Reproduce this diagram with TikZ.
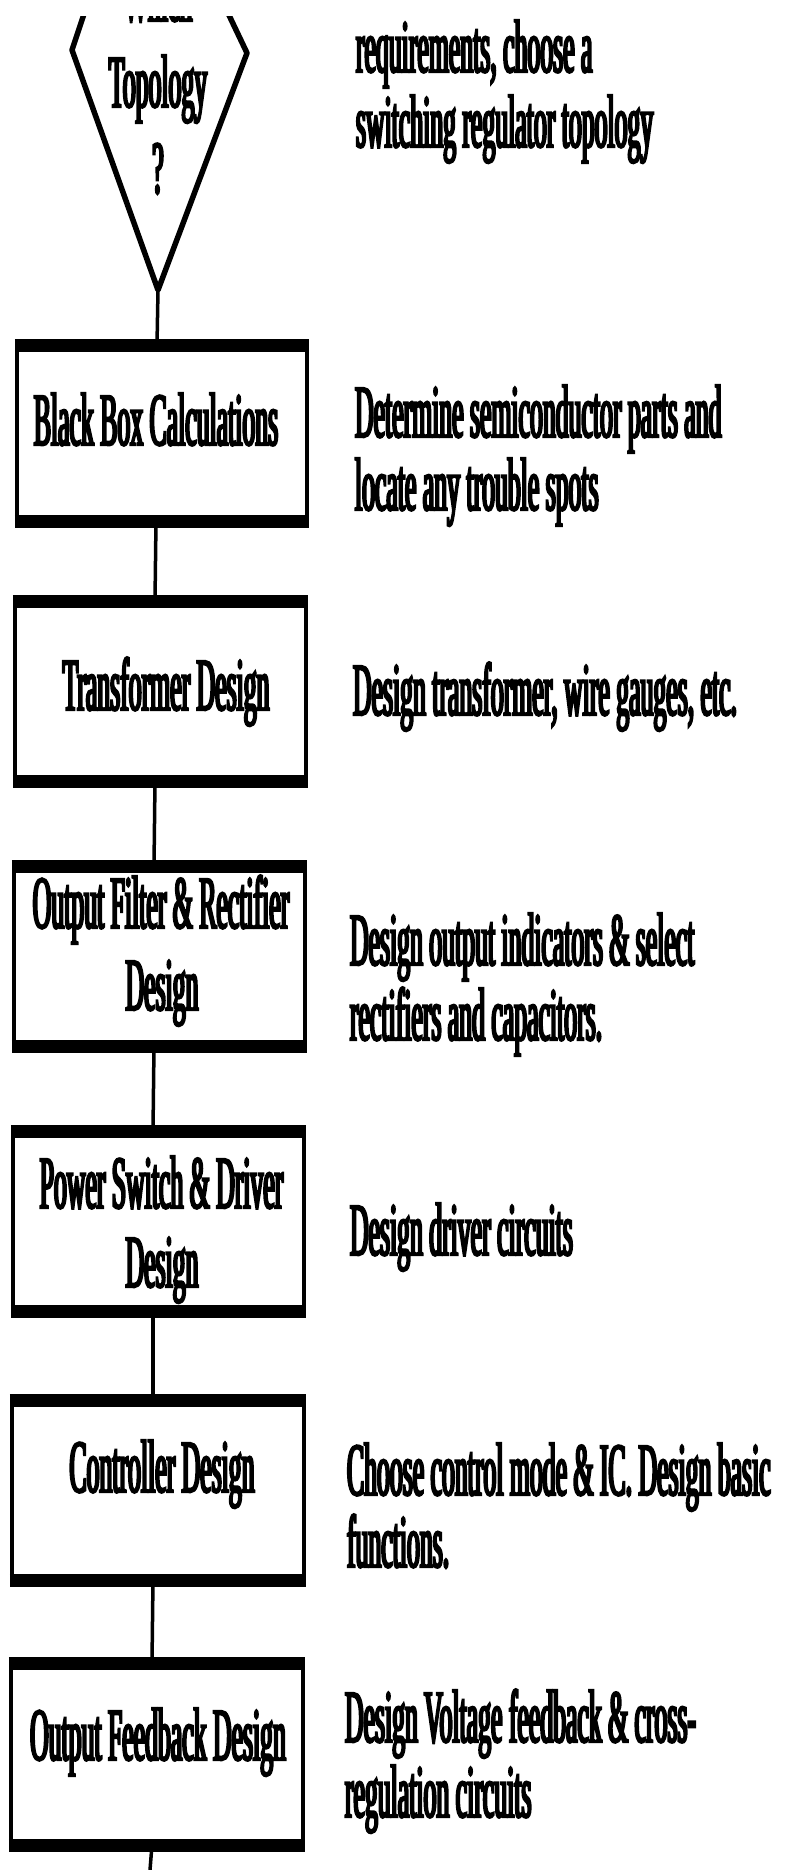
\documentclass[tikz,border=0pt]{standalone}
\usepackage{fontspec}
\setmainfont{Liberation Serif}[FakeStretch=0.343,FakeBold=3]
\begin{document}
\begin{tikzpicture}[x=1pt,y=-1pt,
  txt/.style={inner sep=0pt, outer sep=0pt, font=\fontsize{75}{80}\selectfont},
  desc/.style={txt, anchor=base west},
  lbl/.style={txt, anchor=base},
  stepbox/.style={draw, line width=4.5pt, inner sep=0pt, outer sep=0pt, minimum height=180pt, minimum width=291pt},
  band/.style={line width=13pt},
  conn/.style={line width=3.5pt}]
\useasboundingbox (0,0) rectangle (784,1870);
\begin{scope}
\clip (0,17) rectangle (784,1870);
% decision shape (clipped at the top)
\coordinate (dtl) at (92,-10);
\coordinate (dl) at (72,50);
\coordinate (tip) at (158,290);
\coordinate (dr) at (247,53);
\coordinate (dtr) at (217,-10);
\draw[line width=5.5pt, line join=round] (dtl) -- (dl) -- (tip) -- (dr) -- (dtr);
\node[lbl] (q0) at (158,21) {Which};
\node[lbl] (q1) at (158,107) {Topology};
\node[lbl] (q2) at (158,193) {?};

% boxes
\node[stepbox, minimum width=290pt, minimum height=176pt] (b1) at (162,433) {};
\node[stepbox] (b2) at (160.5,691) {};
\node[stepbox] (b3) at (159.5,956) {};
\node[stepbox] (b4) at (158.5,1221) {};
\node[stepbox, minimum width=292pt] (b5) at (158,1490) {};
\node[stepbox, minimum width=292pt, minimum height=182pt] (b6) at (157,1754) {};
\foreach \n in {b1,b2,b3,b4,b5,b6}{
  \draw[band] ([xshift=-2.25pt]\n.north west) -- ([xshift=2.25pt]\n.north east);
  \draw[band] ([xshift=-2.25pt]\n.south west) -- ([xshift=2.25pt]\n.south east);
}

% box labels
\node[lbl] (l1) at (156,445) {Black Box Calculations};
\node[lbl] (l2) at (166,710) {Transformer Design};
\node[lbl] (l3a) at (161,928) {Output Filter \& Rectifier};
\node[lbl] (l3b) at (162,1010) {Design};
\node[lbl] (l4a) at (161.5,1208) {Power Switch \& Driver};
\node[lbl] (l4b) at (162,1287) {Design};
\node[lbl] (l5) at (162,1492) {Controller Design};
\node[lbl] (l6) at (158,1760) {Output Feedback Design};

% connectors
\coordinate (bottom) at (150,1870);
\draw[conn] (tip) -- ([xshift=-5pt]b1.north);
\draw[conn] ([xshift=-6pt]b1.south) -- ([xshift=-5.5pt]b2.north);
\draw[conn] ([xshift=-5.5pt]b2.south) -- ([xshift=-5.5pt]b3.north);
\draw[conn] ([xshift=-5.5pt]b3.south) -- ([xshift=-5.5pt]b4.north);
\draw[conn] ([xshift=-5.5pt]b4.south) -- ([xshift=-5pt]b5.north);
\draw[conn] ([xshift=-5pt]b5.south) -- ([xshift=-5pt]b6.north);
\draw[conn] ([xshift=-5pt]b6.south) -- (bottom);

% descriptions
\node[desc] (d0a) at (356,72) {requirements, choose a};
\node[desc] (d0b) at (356,147) {switching regulator topology};
\node[desc] (d1a) at (355,437) {Determine semiconductor parts and};
\node[desc] (d1b) at (355,510) {locate any trouble spots};
\node[desc] (d2) at (353,715) {Design transformer, wire gauges, etc.};
\node[desc] (d3a) at (350,965) {Design output indicators \& select};
\node[desc] (d3b) at (350,1040) {rectifiers and capacitors.};
\node[desc] (d4) at (350,1255) {Design driver circuits};
\node[desc] (d5a) at (347,1495) {Choose control mode \& IC. Design basic};
\node[desc] (d5b) at (347,1567) {functions.};
\node[desc] (d6a) at (345,1742) {Design Voltage feedback \& cross-};
\node[desc] (d6b) at (345,1817) {regulation circuits};
\end{scope}
\end{tikzpicture}
\end{document}
